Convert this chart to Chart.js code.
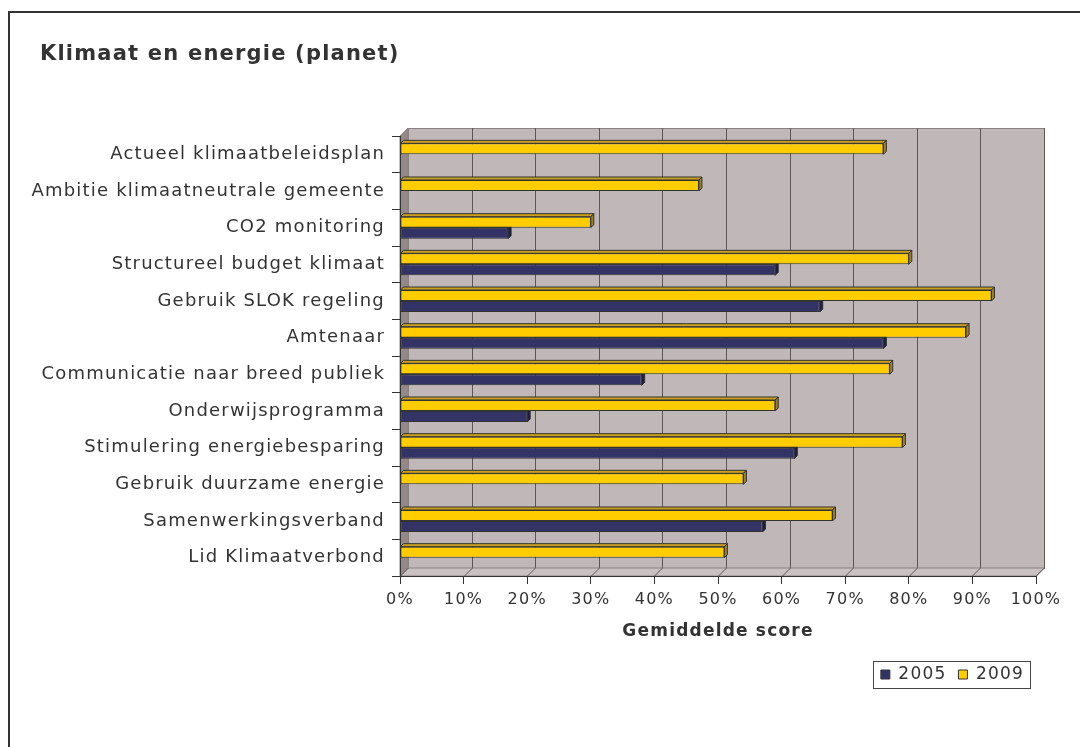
<!DOCTYPE html>
<html>
<head>
<meta charset="utf-8">
<script src="https://cdn.jsdelivr.net/npm/chart.js@4/dist/chart.umd.min.js"></script>
<style>
  body { margin: 0; background: #fff; }
  #frame { position: absolute; left: 8px; top: 11px; width: 1200px; height: 900px;
           border-left: 2px solid #333; border-top: 2px solid #333; }
  #graph { position: absolute; left: 0; top: 0; }
</style>
</head>
<body>
<div id="frame"></div>
<canvas id="graph" width="1080" height="747"></canvas>
<script>
const chartTitle = `Klimaat en energie (planet)`;
const categories = [
  `Actueel klimaatbeleidsplan`,
  `Ambitie klimaatneutrale gemeente`,
  `CO2 monitoring`,
  `Structureel budget klimaat`,
  `Gebruik SLOK regeling`,
  `Amtenaar`,
  `Communicatie naar breed publiek`,
  `Onderwijsprogramma`,
  `Stimulering energiebesparing`,
  `Gebruik duurzame energie`,
  `Samenwerkingsverband`,
  `Lid Klimaatverbond`
];
const values2005 = [null, null, 17, 59, 66, 76, 38, 20, 62, null, 57, null];
const values2009 = [76, 47, 30, 80, 93, 89, 77, 59, 79, 54, 68, 51];
const xTicks = [0, 10, 20, 30, 40, 50, 60, 70, 80, 90, 100];

const WALL = 8;   // depth of the back wall
const DEPTH = 3;  // depth of the bars
const faces = {
  '2009': {top: `#C9A01E`, side: `#9C7E2C`},
  '2005': {top: `#2A2A55`, side: `#1E1E40`}
};

Chart.defaults.font.family = `'DejaVu Sans', Verdana, sans-serif`;
Chart.defaults.color = `#333`;

const SPACING = `1.2px`;
const spacing = {
  id: `spacing`,
  afterInit(chart) { chart.ctx.letterSpacing = SPACING; },
  beforeUpdate(chart) { chart.ctx.letterSpacing = SPACING; },
  beforeDraw(chart) { chart.ctx.letterSpacing = SPACING; }
};

// chart title, left aligned with the frame
const titleText = {
  id: `titleText`,
  afterDraw(chart) {
    const ctx = chart.ctx;
    ctx.save();
    ctx.font = `bold 21px 'DejaVu Sans', Verdana, sans-serif`;
    ctx.fillStyle = `#333`;
    ctx.textBaseline = `middle`;
    ctx.textAlign = `left`;
    ctx.fillText(chartTitle, 40, 55);
    ctx.restore();
  }
};

// back wall, left wall, floor and grid of the 3D box
const walls = {
  id: `walls`,
  beforeDraw(chart) {
    const ctx = chart.ctx;
    const {left, right, top, bottom} = chart.chartArea;
    const xs = chart.scales.x;
    const d = WALL;
    ctx.save();
    ctx.fillStyle = `#C0B8B8`;
    ctx.fillRect(left + d, top - d, right - left, bottom - top);
    ctx.strokeStyle = `#8a8282`;
    ctx.lineWidth = 1;
    ctx.strokeRect(left + d + 0.5, top - d + 0.5, right - left, bottom - top);

    // left wall
    ctx.beginPath();
    ctx.moveTo(left, top); ctx.lineTo(left + d, top - d);
    ctx.lineTo(left + d, bottom - d); ctx.lineTo(left, bottom);
    ctx.closePath();
    ctx.fillStyle = `#948888`;
    ctx.fill();
    ctx.stroke();

    // floor
    ctx.beginPath();
    ctx.moveTo(left, bottom); ctx.lineTo(left + d, bottom - d);
    ctx.lineTo(right + d, bottom - d); ctx.lineTo(right, bottom);
    ctx.closePath();
    ctx.fillStyle = `#CAC2C2`;
    ctx.fill();
    ctx.stroke();

    ctx.strokeStyle = `#5c5656`;
    xTicks.forEach(v => {
      const px = Math.round(xs.getPixelForValue(v)) + 0.5;
      if (v > 0) {
        ctx.beginPath();
        ctx.moveTo(px + d, top - d);
        ctx.lineTo(px + d, bottom - d);
        ctx.stroke();
      }
      ctx.beginPath();
      ctx.moveTo(px, bottom);
      ctx.lineTo(px + d, bottom - d);
      ctx.stroke();
    });
    ctx.restore();
  }
};

// top and side faces of the bars
const bars3d = {
  id: `bars3d`,
  beforeDatasetsDraw(chart) {
    const ctx = chart.ctx;
    ctx.save();
    ctx.strokeStyle = `#333`;
    ctx.lineWidth = 1;
    chart.data.datasets.forEach((ds, i) => {
      const meta = chart.getDatasetMeta(i);
      const f = faces[ds.label];
      meta.data.forEach((bar, j) => {
        if (ds.data[j] == null) return;
        const {x, y, base, height} = bar.getProps([`x`, `y`, `base`, `height`], true);
        const t = y - height / 2, b = y + height / 2;
        ctx.beginPath();
        ctx.moveTo(base, t); ctx.lineTo(base + DEPTH, t - DEPTH);
        ctx.lineTo(x + DEPTH, t - DEPTH); ctx.lineTo(x, t);
        ctx.closePath();
        ctx.fillStyle = f.top;
        ctx.fill(); ctx.stroke();
        ctx.beginPath();
        ctx.moveTo(x, t); ctx.lineTo(x + DEPTH, t - DEPTH);
        ctx.lineTo(x + DEPTH, b - DEPTH); ctx.lineTo(x, b);
        ctx.closePath();
        ctx.fillStyle = f.side;
        ctx.fill(); ctx.stroke();
      });
    });
    ctx.restore();
  }
};

// frame round the legend
const legendBox = {
  id: `legendBox`,
  afterDraw(chart) {
    const boxes = chart.legend.legendHitBoxes;
    if (!boxes || !boxes.length) return;
    const x1 = Math.min(...boxes.map(b => b.left)) - 8;
    const x2 = Math.max(...boxes.map(b => b.left + b.width)) + 6;
    const cy = boxes[0].top + boxes[0].height / 2;
    const ctx = chart.ctx;
    ctx.save();
    ctx.strokeStyle = `#444`;
    ctx.lineWidth = 1;
    ctx.strokeRect(Math.round(x1) + 0.5, Math.round(cy - 14) + 0.5, Math.round(x2 - x1), 27);
    ctx.restore();
  }
};

new Chart(`graph`, {
  type: `bar`,
  data: {
    labels: categories,
    datasets: [
      {label: `2009`, data: values2009, backgroundColor: `#FFCC00`, borderColor: `#333`, borderWidth: 1, borderSkipped: false},
      {label: `2005`, data: values2005, backgroundColor: `#333366`, borderColor: `#333`, borderWidth: 1, borderSkipped: false}
    ]
  },
  options: {
    indexAxis: `y`,
    responsive: false,
    animation: false,
    categoryPercentage: 0.6,
    barPercentage: 1,
    layout: {padding: {left: 20, right: 44, top: 136, bottom: 54}},
    plugins: {
      title: {display: false},
      legend: {
        position: `bottom`,
        align: `end`,
        reverse: true,
        labels: {boxWidth: 9, boxHeight: 9, padding: 12, color: `#333`, font: {size: 17}}
      },
      tooltip: {enabled: false}
    },
    scales: {
      y: {
        offset: true,
        grid: {display: true, drawOnChartArea: false, offset: true, tickLength: 8, color: `#333`},
        border: {display: true, color: `#333`},
        ticks: {font: {size: 18}, color: `#333`, padding: 7},
        afterFit(s) { s.width = 380; }
      },
      x: {
        min: 0,
        max: 100,
        grid: {drawOnChartArea: false, tickLength: 8, color: `#333`},
        border: {display: true, color: `#333`},
        ticks: {stepSize: 10, font: {size: 16}, color: `#333`, padding: 6, maxRotation: 0,
                callback: v => v + `%`},
        title: {display: true, text: `Gemiddelde score`, color: `#333`,
                font: {size: 17, weight: `bold`}, padding: {top: 16, bottom: 12}},
        afterFit(s) { s.height = 78; }
      }
    }
  },
  plugins: [spacing, walls, bars3d, legendBox, titleText]
});
</script>
</body>
</html>
